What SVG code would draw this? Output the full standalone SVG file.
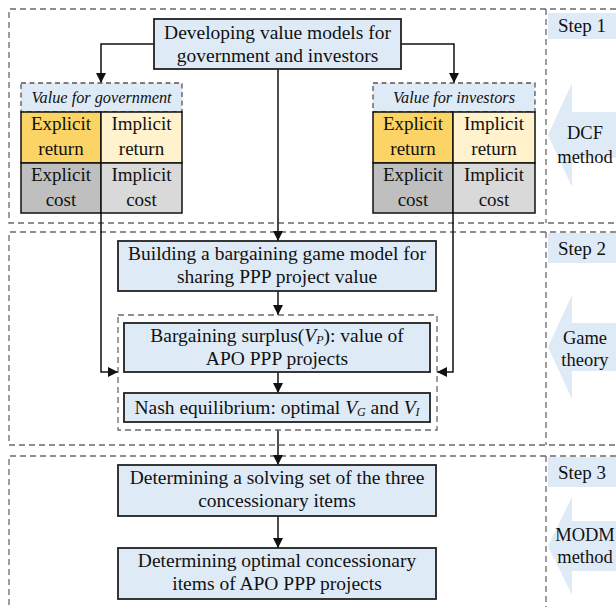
<svg xmlns="http://www.w3.org/2000/svg" width="616" height="607" viewBox="0 0 616 607">
  <defs>
    <marker id="arrow" markerUnits="userSpaceOnUse" markerWidth="10" markerHeight="10" refX="10" refY="5" orient="auto">
      <path d="M0,0 L10,5 L0,10 z" fill="#111"/>
    </marker>
    <style>
      .t { font-family: "Liberation Serif", "Times New Roman", serif; fill: #111; }
      .main { font-size: 19.5px; text-anchor: middle; }
      .cell { font-size: 19px; text-anchor: middle; }
      .title { font-size: 16.3px; font-style: italic; text-anchor: middle; }
      .side { font-size: 19px; }
      .sidec { font-size: 18.5px; text-anchor: middle; }
      .it { font-style: italic; }
      .sub { font-size: 12px; font-style: italic; }
      .frame { fill: none; stroke: #6a6a6a; stroke-width: 1.3; stroke-dasharray: 6 4; }
      .node { fill: #deebf7; stroke: #222; stroke-width: 1.8; }
      .hdr { fill: #deebf7; stroke: #555; stroke-width: 1.3; stroke-dasharray: 5 3.5; }
      .cellbox { stroke: #111; stroke-width: 1.5; }
      .er { fill: #fcd466; }
      .ir { fill: #fff2cc; }
      .ec { fill: #bfbfbf; }
      .ic { fill: #d9d9d9; }
      .band { fill: #deebf7; }
      .wire { fill: none; stroke: #111; stroke-width: 1.5; }
    </style>
  </defs>
  <rect width="616" height="607" fill="#fff"/>

  <!-- stage frames with side column -->
  <g id="stages">
    <path class="frame" d="M616,9 H9 V223 H616"/>
    <path class="frame" d="M546,9 V223"/>
    <path class="frame" d="M616,232 H9 V445 H616"/>
    <path class="frame" d="M546,232 V445"/>
    <path class="frame" d="M616,456 H9 V607"/>
    <path class="frame" d="M546,456 V607"/>
  </g>

  <!-- side column: step labels and method arrows -->
  <g id="step1">
    <rect class="band" x="548" y="13" width="68" height="26"/>
    <text class="t side" x="558" y="32">Step 1</text>
    <polygon class="band" points="548,135 572,83 572,112 616,112 616,158 572,158 572,187"/>
    <text class="t sidec" x="585" y="139">DCF</text>
    <text class="t sidec" x="585" y="163">method</text>
  </g>
  <g id="step2">
    <rect class="band" x="548" y="233" width="68" height="30"/>
    <text class="t side" x="558" y="255">Step 2</text>
    <polygon class="band" points="548,347 572,295 572,323 616,323 616,371 572,371 572,399"/>
    <text class="t sidec" x="585" y="344">Game</text>
    <text class="t sidec" x="585" y="366">theory</text>
  </g>
  <g id="step3">
    <rect class="band" x="548" y="457" width="68" height="30"/>
    <text class="t side" x="558" y="479">Step 3</text>
    <polygon class="band" points="548,546 572,497 572,521 616,521 616,571 572,571 572,595"/>
    <text class="t sidec" x="585" y="541">MODM</text>
    <text class="t sidec" x="585" y="563">method</text>
  </g>

  <!-- connectors -->
  <g id="connectors">
    <path class="wire" d="M154,44 H101 V83" marker-end="url(#arrow)"/>
    <path class="wire" d="M401,44 H454 V83" marker-end="url(#arrow)"/>
    <path class="wire" d="M278,69 V241" marker-end="url(#arrow)"/>
    <path class="wire" d="M101,213 V372 H118" marker-end="url(#arrow)"/>
    <path class="wire" d="M453,213 V372 H437" marker-end="url(#arrow)"/>
    <path class="wire" d="M278,291 V315" marker-end="url(#arrow)"/>
    <path class="wire" d="M278,372 V393" marker-end="url(#arrow)"/>
    <path class="wire" d="M278,430 V465" marker-end="url(#arrow)"/>
    <path class="wire" d="M278,516 V548" marker-end="url(#arrow)"/>
  </g>

  <g id="value-models">
    <rect class="node" x="154" y="19" width="247" height="50"/>
    <text class="t main" x="277.5" y="38.5">Developing value models for</text>
    <text class="t main" x="277.5" y="62">government and investors</text>
  </g>

  <g id="value-government">
    <rect class="hdr" x="21" y="83" width="161" height="29"/>
    <text class="t title" x="101.5" y="103">Value for government</text>
    <rect class="cellbox er" x="21" y="112" width="80" height="51"/>
    <rect class="cellbox ir" x="101" y="112" width="81" height="51"/>
    <rect class="cellbox ec" x="21" y="163" width="80" height="50"/>
    <rect class="cellbox ic" x="101" y="163" width="81" height="50"/>
    <text class="t cell" x="61" y="130">Explicit</text>
    <text class="t cell" x="61" y="155">return</text>
    <text class="t cell" x="141.5" y="130">Implicit</text>
    <text class="t cell" x="141.5" y="155">return</text>
    <text class="t cell" x="61" y="181">Explicit</text>
    <text class="t cell" x="61" y="206">cost</text>
    <text class="t cell" x="141.5" y="181">Implicit</text>
    <text class="t cell" x="141.5" y="206">cost</text>
  </g>

  <g id="value-investors">
    <rect class="hdr" x="373" y="83" width="162" height="29"/>
    <text class="t title" x="454" y="103">Value for investors</text>
    <rect class="cellbox er" x="373" y="112" width="80" height="51"/>
    <rect class="cellbox ir" x="453" y="112" width="82" height="51"/>
    <rect class="cellbox ec" x="373" y="163" width="80" height="50"/>
    <rect class="cellbox ic" x="453" y="163" width="82" height="50"/>
    <text class="t cell" x="413" y="130">Explicit</text>
    <text class="t cell" x="413" y="155">return</text>
    <text class="t cell" x="494" y="130">Implicit</text>
    <text class="t cell" x="494" y="155">return</text>
    <text class="t cell" x="413" y="181">Explicit</text>
    <text class="t cell" x="413" y="206">cost</text>
    <text class="t cell" x="494" y="181">Implicit</text>
    <text class="t cell" x="494" y="206">cost</text>
  </g>

  <g id="bargaining-model">
    <rect class="node" x="118" y="241" width="318" height="50"/>
    <text class="t main" x="277" y="260">Building a bargaining game model for</text>
    <text class="t main" x="277" y="283">sharing PPP project value</text>
  </g>

  <g id="game-solution">
    <rect class="frame" x="118" y="315" width="319" height="115"/>
  </g>

  <g id="bargaining-surplus">
    <rect class="node" x="124" y="323" width="306" height="49"/>
    <text class="t main" x="277" y="342">Bargaining surplus(<tspan class="it">V</tspan><tspan class="sub" dy="2">P</tspan><tspan dy="-2">): value of</tspan></text>
    <text class="t main" x="277" y="365">APO PPP projects</text>
  </g>

  <g id="nash-equilibrium">
    <rect class="node" x="124" y="393" width="306" height="29"/>
    <text class="t main" x="277" y="414">Nash equilibrium: optimal <tspan class="it">V</tspan><tspan class="sub" dy="2">G</tspan><tspan dy="-2"> and </tspan><tspan class="it">V</tspan><tspan class="sub" dy="2">I</tspan></text>
  </g>

  <g id="solving-set">
    <rect class="node" x="118" y="465" width="318" height="51"/>
    <text class="t main" x="277" y="484">Determining a solving set of the three</text>
    <text class="t main" x="277" y="507">concessionary items</text>
  </g>

  <g id="optimal-items">
    <rect class="node" x="118" y="548" width="318" height="51"/>
    <text class="t main" x="277" y="567">Determining optimal concessionary</text>
    <text class="t main" x="277" y="590">items of APO PPP projects</text>
  </g>
</svg>
